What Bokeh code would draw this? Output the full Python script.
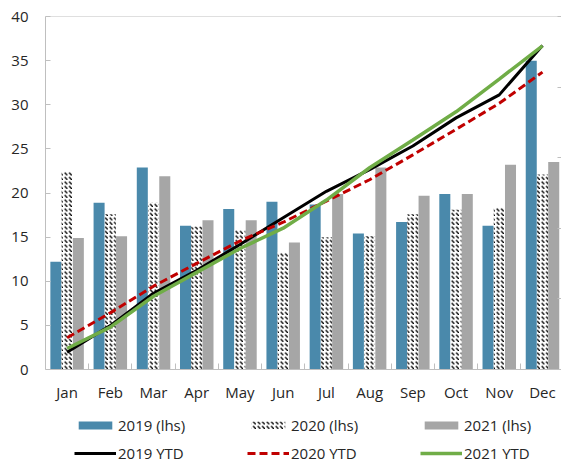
from bokeh.plotting import figure
from bokeh.models import Range1d, FixedTicker, Legend, LegendItem, Span, LinearAxis
from bokeh.embed import file_html
from bokeh.resources import INLINE

months = ["Jan", "Feb", "Mar", "Apr", "May", "Jun", "Jul", "Aug", "Sep", "Oct", "Nov", "Dec"]
# monthly values (lhs)
v2019 = [12.2, 18.9, 22.9, 16.3, 18.2, 19.0, 18.7, 15.4, 16.7, 19.9, 16.3, 35.0]
v2020 = [22.5, 17.6, 18.9, 16.2, 15.8, 13.3, 15.0, 15.1, 17.6, 18.1, 18.4, 22.1]
v2021 = [14.9, 15.1, 21.9, 16.9, 16.9, 14.4, 19.9, 22.9, 19.7, 19.9, 23.2, 23.5]
# year-to-date totals (rhs, 0-250, axis labels off-picture)
ytd2019 = [12.2, 31.1, 54.0, 70.3, 88.5, 107.5, 126.2, 141.6, 158.3, 178.2, 194.5, 229.5]
ytd2020 = [22.5, 40.1, 59.0, 75.2, 91.0, 104.3, 119.3, 134.4, 152.0, 170.1, 188.5, 210.6]
ytd2021 = [14.9, 30.0, 51.9, 68.8, 85.7, 100.1, 120.0, 142.9, 162.6, 182.5, 205.7, 229.2]
y_ticks = [0, 5, 10, 15, 20, 25, 30, 35, 40]
rhs_ticks = [0, 50, 100, 150, 200, 250]

FONT = "Open Sans"
FS = "15px"
TXT = "#262626"
AX = "#BFBFBF"

LHS_MAX = 40
RHS_MAX = 250
# the plot frame reaches down to the page bottom; room below zero holds labels and legend
below_frac = 95.0 / 353.0

xc = [i + 0.5 for i in range(len(months))]
bw = 0.255
off = 0.26

p = figure(width=561, height=464, output_backend="svg", toolbar_location=None,
           x_range=Range1d(0, 11.94),
           y_range=Range1d(-LHS_MAX * below_frac, LHS_MAX),
           min_border_left=45, min_border_right=0, min_border_top=16, min_border_bottom=0)
p.extra_y_ranges = {"ytd": Range1d(-RHS_MAX * below_frac, RHS_MAX)}
p.outline_line_color = None
p.grid.visible = False
p.background_fill_color = "white"
p.border_fill_color = "white"

p.add_layout(Span(location=LHS_MAX, dimension="width", line_color=AX, line_width=1))

b19 = p.vbar(x=[c - off for c in xc], top=v2019, bottom=0, width=bw, fill_color="#4A89AB", line_color=None)
b20 = p.vbar(x=xc, top=v2020, bottom=0, width=bw, fill_color="white", line_color=None,
             hatch_pattern="left_diagonal_dash", hatch_color="black", hatch_scale=4.5, hatch_weight=1.4)
b21 = p.vbar(x=[c + off for c in xc], top=v2021, bottom=0, width=bw, fill_color="#A6A6A6", line_color=None)

l19 = p.line(xc, ytd2019, y_range_name="ytd", line_color="black", line_width=3)
l20 = p.line(xc, ytd2020, y_range_name="ytd", line_color="#C00000", line_width=3, line_dash="8 4")
l21 = p.line(xc, ytd2021, y_range_name="ytd", line_color="#70AD47", line_width=3.5)

xa = p.xaxis[0]
xa.fixed_location = 0
xa.ticker = FixedTicker(ticks=xc, minor_ticks=list(range(1, 12)))
xa.major_label_overrides = {c: m for c, m in zip(xc, months)}
xa.major_tick_line_color = None
xa.major_tick_out = 0
xa.major_tick_in = 0
xa.minor_tick_in = 6
xa.minor_tick_out = 0
xa.minor_tick_line_color = AX
xa.axis_line_color = AX
xa.major_label_standoff = 12
xa.major_label_text_font = FONT
xa.major_label_text_font_size = FS
xa.major_label_text_color = TXT

ya = p.yaxis[0]
ya.bounds = (0, LHS_MAX)
ya.ticker = FixedTicker(ticks=y_ticks)
ya.major_tick_in = 5
ya.major_tick_out = 0
ya.major_tick_line_color = AX
ya.minor_tick_line_color = None
ya.axis_line_color = AX
ya.major_label_standoff = 17
ya.major_label_text_font = FONT
ya.major_label_text_font_size = FS
ya.major_label_text_color = TXT

ra = LinearAxis(y_range_name="ytd", ticker=FixedTicker(ticks=rhs_ticks), bounds=(0, RHS_MAX))
ra.major_label_overrides = {t: "" for t in rhs_ticks}
ra.major_label_standoff = 0
ra.major_tick_out = 0
ra.major_tick_in = 4
ra.major_tick_line_color = AX
ra.minor_tick_line_color = None
ra.axis_line_color = None
p.add_layout(ra, "right")

legend = Legend(items=[
    LegendItem(label="2019 (lhs)", renderers=[b19]),
    LegendItem(label="2020 (lhs)", renderers=[b20]),
    LegendItem(label="2021 (lhs)", renderers=[b21]),
    LegendItem(label="2019 YTD", renderers=[l19]),
    LegendItem(label="2020 YTD", renderers=[l20]),
    LegendItem(label="2021 YTD", renderers=[l21]),
], location=(29, 1), orientation="horizontal", ncols=3,
   glyph_width=42, glyph_height=10, label_standoff=2, label_width=121, label_height=20,
   spacing=8, padding=0, margin=0, border_line_color=None, background_fill_alpha=0,
   label_text_font=FONT, label_text_font_size=FS, label_text_color=TXT)
p.add_layout(legend)

open("out.html", "w").write(file_html(p, INLINE))
